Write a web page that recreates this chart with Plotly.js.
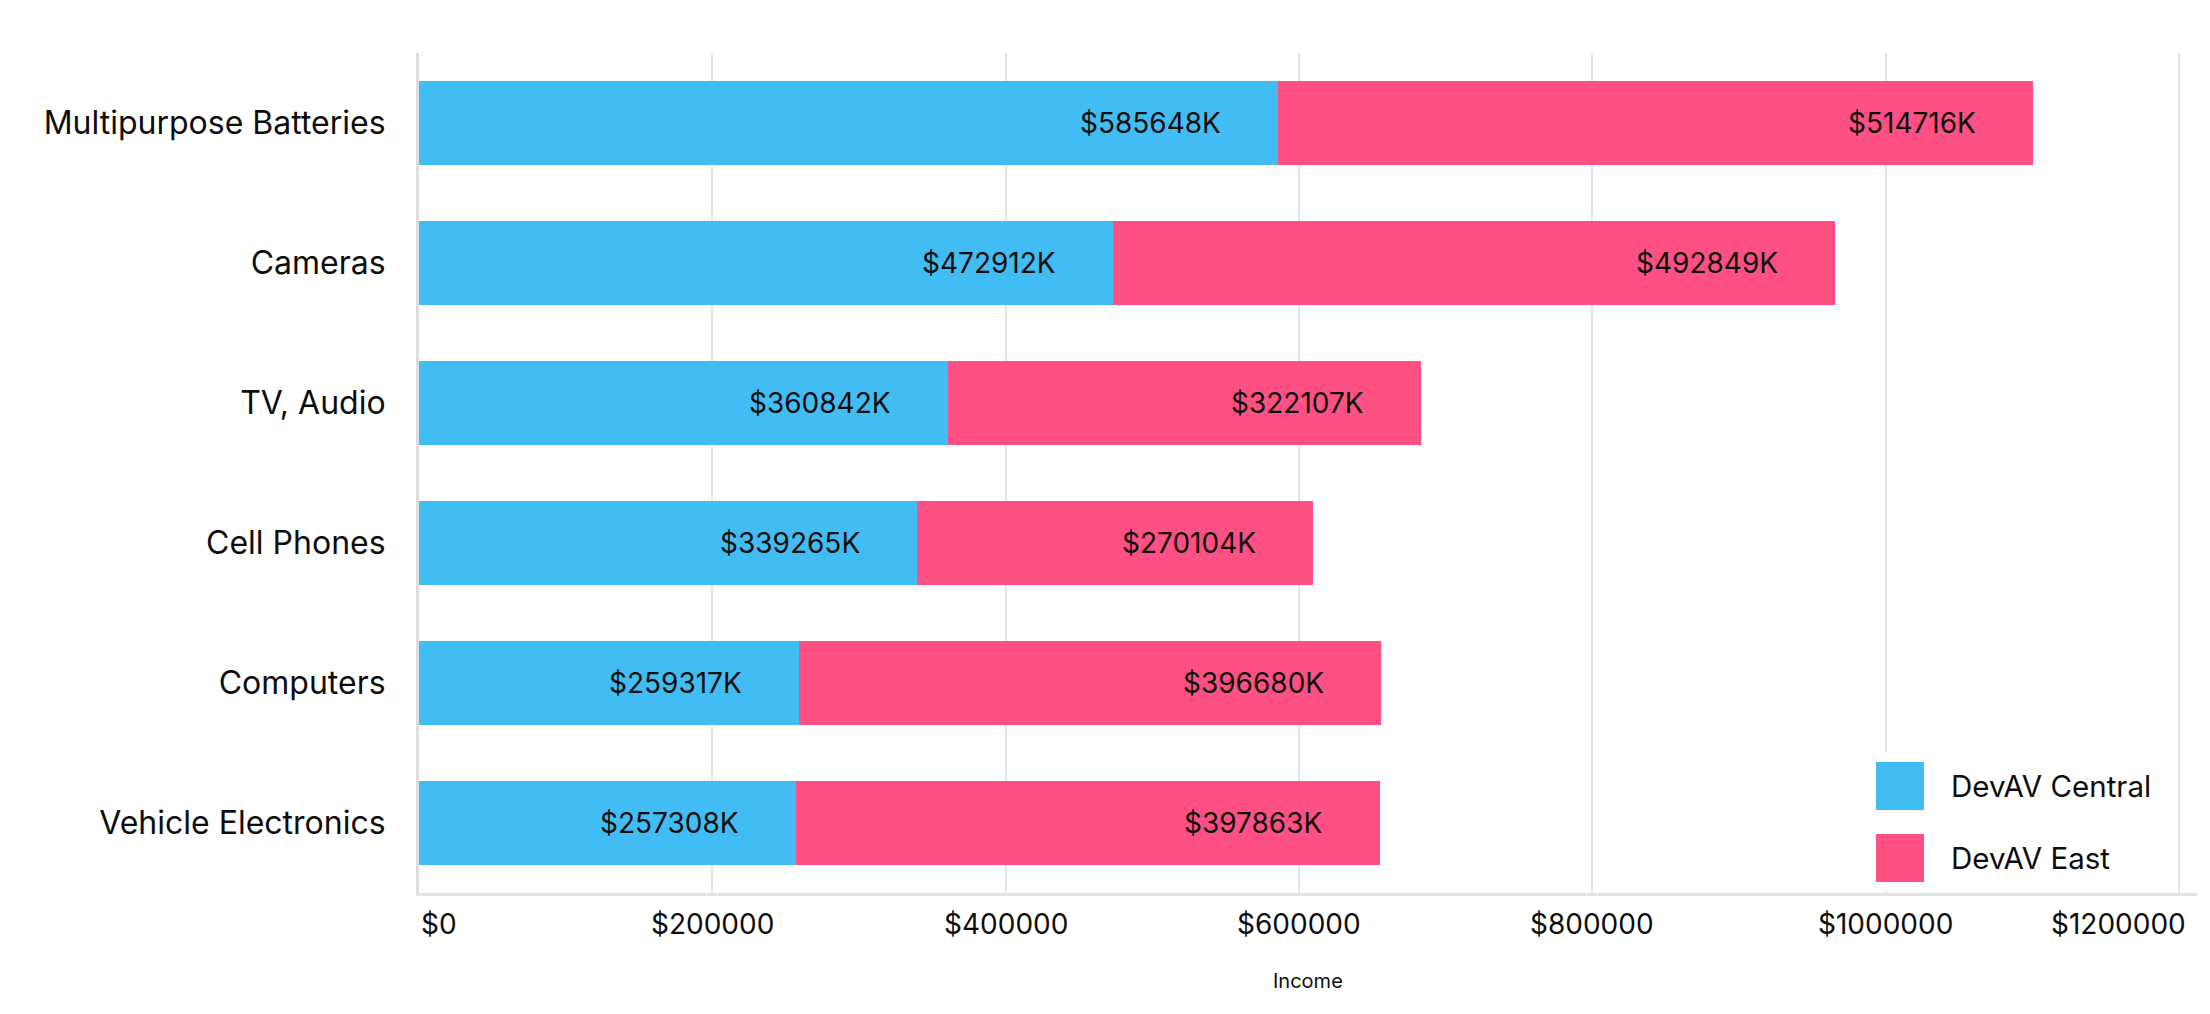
<!DOCTYPE html>
<html>
<head>
<meta charset="utf-8">
<script src="https://cdn.plot.ly/plotly-3.0.1.min.js"></script>
<style>
  html, body { margin: 0; padding: 0; background: #ffffff; }
  #chart { width: 2210px; height: 1014px; }
</style>
</head>
<body>
<div id="chart"></div>
<script>
// ---- data ----
const categories = ["Multipurpose Batteries", "Cameras", "TV, Audio", "Cell Phones", "Computers", "Vehicle Electronics"];
const devavCentral = [585648, 472912, 360842, 339265, 259317, 257308];
const devavEast = [514716, 492849, 322107, 270104, 396680, 397863];
const seriesNames = ["DevAV Central", "DevAV East"];
const tickVals = [0, 200000, 400000, 600000, 800000, 1000000, 1200000];
const tickText = ["$0", "$200000", "$400000", "$600000", "$800000", "$1000000", "$1200000"];
const axisTitle = "Income";

// ---- style ----
const W = 2210, H = 1014;
const M = { l: 419, r: 13, t: 53, b: 121 };
const colors = ["#42bdf3", "#ff5083"];
const FONT = "Inter, 'Noto Sans', sans-serif";
const textColor = "#0d0d0d";
const gridColor = "#e4e4e4";

const plotW = W - M.l - M.r, plotH = H - M.t - M.b;
const px2x = p => (p - M.l) / plotW;
const px2y = p => (H - M.b - p) / plotH;

const fmt = v => "$" + v + "K";

const traces = [
  { type: "bar", orientation: "h", name: seriesNames[0], y: categories, x: devavCentral,
    marker: { color: colors[0] }, hoverinfo: "x+name" },
  { type: "bar", orientation: "h", name: seriesNames[1], y: categories, x: devavEast,
    marker: { color: colors[1] }, hoverinfo: "x+name" }
];

const annotations = [];
// value labels, inside the end of each segment
categories.forEach((c, i) => {
  annotations.push({ x: devavCentral[i], y: c, xref: "x", yref: "y", text: fmt(devavCentral[i]),
    showarrow: false, xanchor: "right", yanchor: "middle", xshift: -55,
    font: { family: FONT, size: 28, color: textColor } });
  annotations.push({ x: devavCentral[i] + devavEast[i], y: c, xref: "x", yref: "y", text: fmt(devavEast[i]),
    showarrow: false, xanchor: "right", yanchor: "middle", xshift: -55,
    font: { family: FONT, size: 28, color: textColor } });
});
// x tick labels (end labels kept inside the axis like the original)
tickVals.forEach((v, i) => {
  annotations.push({ x: v, y: 0, xref: "x", yref: "paper", text: tickText[i], showarrow: false,
    xanchor: i === 0 ? "left" : (i === tickVals.length - 1 ? "right" : "center"),
    xshift: i === tickVals.length - 1 ? 9 : 0,
    yanchor: "middle", yshift: -31,
    font: { family: FONT, size: 28, color: textColor } });
});
// axis title
annotations.push({ x: 0.5, y: px2y(981), xref: "paper", yref: "paper", text: axisTitle, showarrow: false,
  xanchor: "center", yanchor: "middle", font: { family: FONT, size: 20, color: textColor } });

// legend
const shapes = [
  { type: "rect", xref: "paper", yref: "paper", x0: px2x(1862), x1: px2x(2170), y0: px2y(891), y1: px2y(752),
    fillcolor: "#ffffff", line: { width: 0 }, layer: "above" }
];
const legendRows = [786, 858];
seriesNames.forEach((n, i) => {
  const cy = legendRows[i];
  shapes.push({ type: "rect", xref: "paper", yref: "paper", x0: px2x(1876), x1: px2x(1924),
    y0: px2y(cy + 24), y1: px2y(cy - 24), fillcolor: colors[i], line: { width: 0 }, layer: "above" });
  annotations.push({ x: px2x(1949), y: px2y(cy), xref: "paper", yref: "paper", text: n, showarrow: false,
    xanchor: "left", yanchor: "middle", font: { family: FONT, size: 29.5, color: textColor } });
});

const layout = {
  width: W, height: H,
  margin: M,
  paper_bgcolor: "#ffffff", plot_bgcolor: "#ffffff",
  barmode: "stack", bargap: 0.4,
  showlegend: false,
  font: { family: FONT, color: textColor },
  xaxis: {
    range: [0, 1212273], tickvals: tickVals, showticklabels: false, ticks: "",
    showgrid: true, gridcolor: gridColor, gridwidth: 2, zeroline: false,
    showline: true, linecolor: gridColor, linewidth: 3, fixedrange: true
  },
  yaxis: {
    type: "category", categoryorder: "array", categoryarray: categories.slice().reverse(),
    ticks: "", showgrid: false, zeroline: false,
    showline: true, linecolor: "#dddddd", linewidth: 3,
    ticklabelstandoff: 24,
    tickfont: { family: FONT, size: 32, color: textColor }, fixedrange: true
  },
  shapes: shapes,
  annotations: annotations
};

Plotly.newPlot("chart", traces, layout, { displayModeBar: false, staticPlot: true });
</script>
</body>
</html>
